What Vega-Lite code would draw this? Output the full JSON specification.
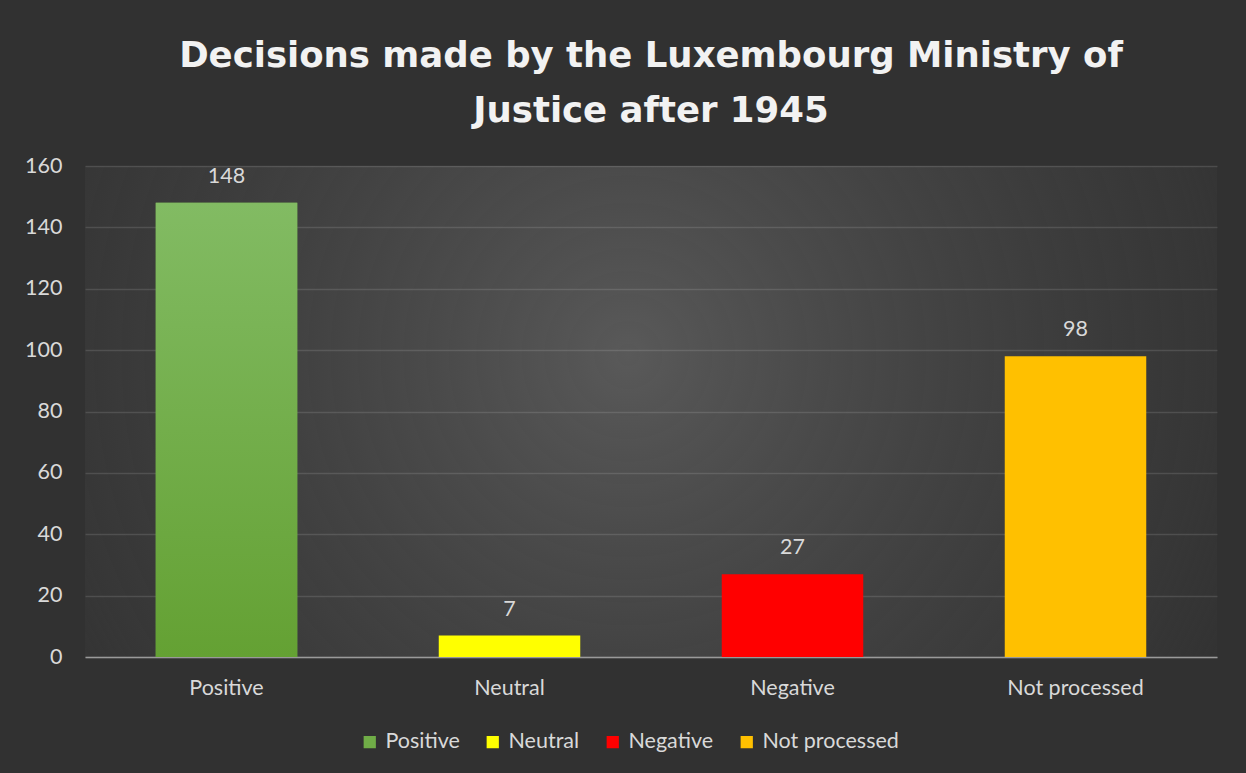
{
  "$schema": "https://vega.github.io/schema/vega-lite/v6.json",
  "width": 1132,
  "height": 491,
  "autosize": {"type": "none"},
  "padding": {"left": 85, "top": 166, "right": 29, "bottom": 116},
  "background": "#313131",
  "view": {
    "stroke": null,
    "fill": {
      "gradient": "radial",
      "x1": 0.48, "y1": 0.45, "r1": 0,
      "x2": 0.48, "y2": 0.45, "r2": 0.68,
      "stops": [
        {"offset": 0, "color": "rgba(89,89,89,1)"},
        {"offset": 0.75, "color": "rgba(60,60,60,0.5)"},
        {"offset": 1, "color": "rgba(49,49,49,0)"}
      ]
    }
  },
  "title": {
    "text": ["Decisions made by the Luxembourg Ministry of", "Justice after 1945"],
    "font": "DejaVu Sans",
    "fontSize": 35.5,
    "fontWeight": "bold",
    "color": "#f2f2f2",
    "lineHeight": 55,
    "anchor": "middle",
    "baseline": "bottom",
    "offset": -9
  },
  "data": {
    "values": [
      {"decision": "Positive", "count": 148},
      {"decision": "Neutral", "count": 7},
      {"decision": "Negative", "count": 27},
      {"decision": "Not processed", "count": 98}
    ]
  },
  "encoding": {
    "x": {
      "field": "decision",
      "type": "nominal",
      "sort": ["Positive", "Neutral", "Negative", "Not processed"],
      "scale": {"paddingInner": 0.5, "paddingOuter": 0.25},
      "axis": {
        "title": null,
        "labelAngle": 0,
        "ticks": false,
        "domainColor": "#9a9a9a",
        "domainWidth": 1.5,
        "labelPadding": 20,
        "labelFont": "Lato",
        "labelFontSize": 21.5,
        "labelColor": "#d9d9d9",
        "grid": false
      }
    },
    "y": {
      "field": "count",
      "type": "quantitative",
      "scale": {"domain": [0, 160], "nice": false},
      "axis": {
        "title": null,
        "values": [0, 20, 40, 60, 80, 100, 120, 140, 160],
        "domain": false,
        "ticks": false,
        "labelPadding": 23,
        "labelFont": "Lato",
        "labelFontSize": 21.5,
        "labelColor": "#d9d9d9",
        "gridColor": "#ffffff",
        "gridOpacity": 0.12,
        "gridWidth": 1.5
      }
    }
  },
  "layer": [
    {
      "mark": {"type": "bar"},
      "encoding": {
        "color": {
          "field": "decision",
          "type": "nominal",
          "sort": ["Positive", "Neutral", "Negative", "Not processed"],
          "scale": {
            "domain": ["Positive", "Neutral", "Negative", "Not processed"],
            "range": ["#70ad47", "#ffff00", "#ff0000", "#ffc000"]
          },
          "legend": {
            "title": null,
            "orient": "none",
            "legendX": 274,
            "legendY": 565,
            "direction": "horizontal",
            "symbolType": "square",
            "symbolSize": 150,
            "symbolStrokeWidth": 0,
            "labelFont": "Lato",
            "labelFontSize": 21.5,
            "labelColor": "#d9d9d9",
            "labelOffset": 5,
            "columnPadding": 22
          }
        }
      }
    },
    {
      "transform": [{"filter": "datum.decision === 'Positive'"}],
      "mark": {
        "type": "bar",
        "color": {
          "gradient": "linear",
          "x1": 0, "y1": 0, "x2": 0, "y2": 1,
          "stops": [
            {"offset": 0, "color": "#82bb63"},
            {"offset": 1, "color": "#64a133"}
          ]
        }
      }
    },
    {
      "mark": {
        "type": "text",
        "baseline": "alphabetic",
        "dy": -20,
        "font": "Lato",
        "fontSize": 21.5,
        "color": "#d9d9d9"
      },
      "encoding": {
        "text": {"field": "count", "type": "quantitative"}
      }
    }
  ]
}
